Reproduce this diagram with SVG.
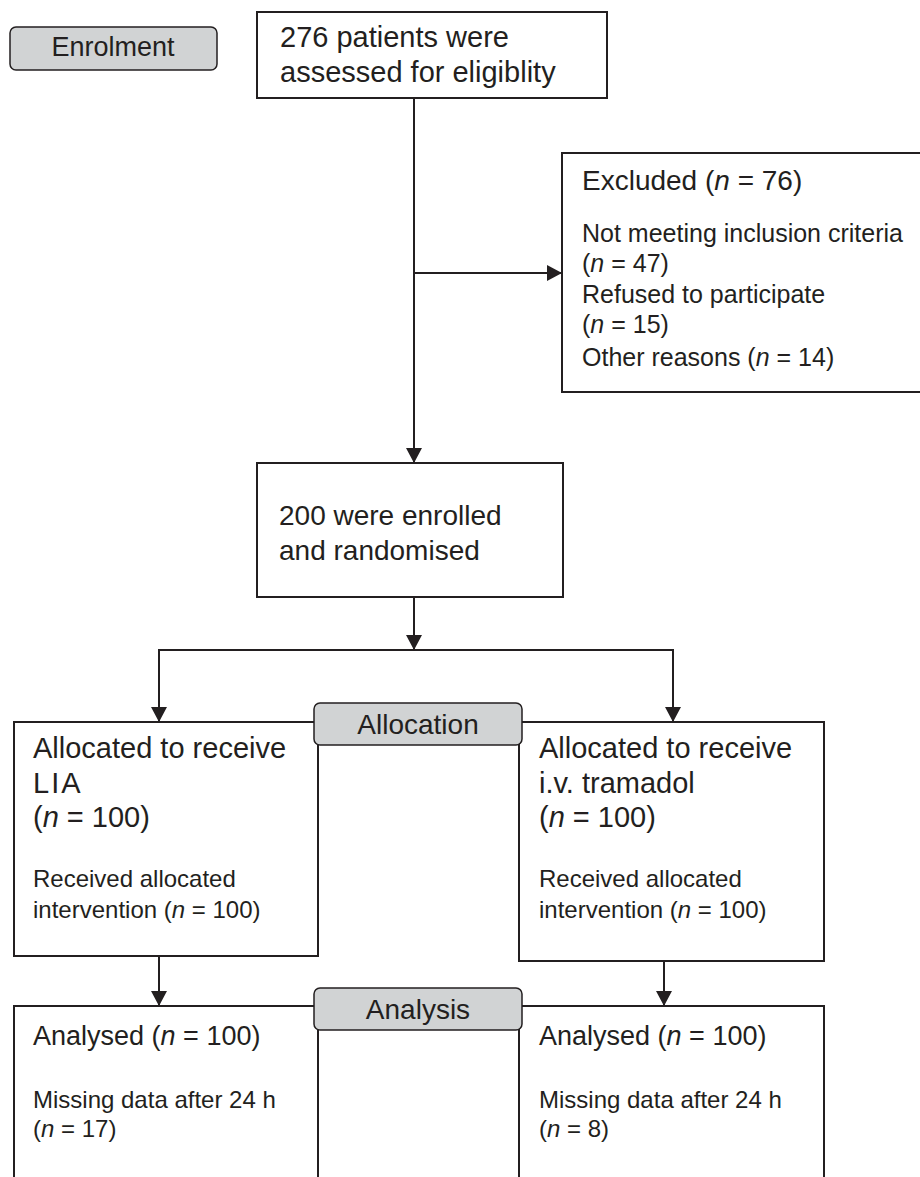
<svg xmlns="http://www.w3.org/2000/svg" width="920" height="1177" viewBox="0 0 920 1177">
  <style>
    text { font-family: "Liberation Sans", Arial, sans-serif; fill: #231f20; }
    .box { fill: #ffffff; stroke: #231f20; stroke-width: 2; }
    .stage { fill: #d1d3d4; stroke: #231f20; stroke-width: 1.5; }
    .line { fill: none; stroke: #231f20; stroke-width: 2; }
    .t29 { font-size: 29px; }
    .t28 { font-size: 28px; }
    .t27 { font-size: 27px; }
    .t25 { font-size: 25px; }
    .t24 { font-size: 24px; }
    .i { font-style: italic; }
  </style>
  <defs>
    <marker id="arrow" markerWidth="15" markerHeight="16" refX="15" refY="8" orient="auto" markerUnits="userSpaceOnUse">
      <path d="M0,0 L15,8 L0,16 Z" fill="#231f20"/>
    </marker>
  </defs>
  <rect width="920" height="1177" fill="#ffffff"/>

  <g id="connectors">
    <line class="line" x1="414" y1="98" x2="414" y2="463" marker-end="url(#arrow)"/>
    <line class="line" x1="414" y1="273" x2="562" y2="273" marker-end="url(#arrow)"/>
    <line class="line" x1="414" y1="597" x2="414" y2="650" marker-end="url(#arrow)"/>
    <line class="line" x1="159" y1="650" x2="673" y2="650"/>
    <line class="line" x1="159" y1="649" x2="159" y2="722" marker-end="url(#arrow)"/>
    <line class="line" x1="673" y1="649" x2="673" y2="722" marker-end="url(#arrow)"/>
    <line class="line" x1="159" y1="956" x2="159" y2="1006" marker-end="url(#arrow)"/>
    <line class="line" x1="664" y1="961" x2="664" y2="1006" marker-end="url(#arrow)"/>
  </g>

  <g id="enrolment">
    <rect class="stage" x="10" y="27" width="207" height="43" rx="6"/>
    <text class="t27" x="113" y="56" text-anchor="middle">Enrolment</text>
  </g>

  <g id="assessed">
    <rect class="box" x="257" y="12" width="350" height="86"/>
    <text class="t29" x="280" y="47">276 patients were</text>
    <text class="t29" x="280" y="82">assessed for eligiblity</text>
  </g>

  <g id="excluded">
    <rect class="box" x="562" y="153" width="380" height="239"/>
    <text class="t28" x="582" y="190">Excluded (<tspan class="i">n</tspan> = 76)</text>
    <text class="t25" x="582" y="242">Not meeting inclusion criteria</text>
    <text class="t25" x="582" y="272">(<tspan class="i">n</tspan> = 47)</text>
    <text class="t25" x="582" y="303">Refused to participate</text>
    <text class="t25" x="582" y="333">(<tspan class="i">n</tspan> = 15)</text>
    <text class="t25" x="582" y="366">Other reasons (<tspan class="i">n</tspan> = 14)</text>
  </g>

  <g id="randomised">
    <rect class="box" x="257" y="463" width="306" height="134"/>
    <text class="t28" x="279" y="525">200 were enrolled</text>
    <text class="t28" x="279" y="560">and randomised</text>
  </g>

  <g id="alloc-lia">
    <rect class="box" x="14" y="722" width="304" height="234"/>
    <text class="t29" x="33" y="758">Allocated to receive</text>
    <text class="t29" x="33" y="793" letter-spacing="2">LIA</text>
    <text class="t29" x="33" y="827">(<tspan class="i">n</tspan> = 100)</text>
    <text class="t24" x="33" y="887">Received allocated</text>
    <text class="t24" x="33" y="918">intervention (<tspan class="i">n</tspan> = 100)</text>
  </g>

  <g id="alloc-tramadol">
    <rect class="box" x="519" y="722" width="305" height="239"/>
    <text class="t29" x="539" y="758">Allocated to receive</text>
    <text class="t29" x="539" y="793">i.v. tramadol</text>
    <text class="t29" x="539" y="827">(<tspan class="i">n</tspan> = 100)</text>
    <text class="t24" x="539" y="887">Received allocated</text>
    <text class="t24" x="539" y="918">intervention (<tspan class="i">n</tspan> = 100)</text>
  </g>

  <g id="allocation">
    <rect class="stage" x="314" y="703" width="208" height="42" rx="6"/>
    <text class="t28" x="418" y="734" text-anchor="middle">Allocation</text>
  </g>

  <g id="analysed-lia">
    <rect class="box" x="14" y="1006" width="304" height="190"/>
    <text class="t27" x="33" y="1045">Analysed (<tspan class="i">n</tspan> = 100)</text>
    <text class="t24" x="33" y="1108">Missing data after 24 h</text>
    <text class="t24" x="33" y="1137">(<tspan class="i">n</tspan> = 17)</text>
  </g>

  <g id="analysed-tramadol">
    <rect class="box" x="519" y="1006" width="305" height="190"/>
    <text class="t27" x="539" y="1045">Analysed (<tspan class="i">n</tspan> = 100)</text>
    <text class="t24" x="539" y="1108">Missing data after 24 h</text>
    <text class="t24" x="539" y="1137">(<tspan class="i">n</tspan> = 8)</text>
  </g>

  <g id="analysis">
    <rect class="stage" x="314" y="988" width="208" height="42" rx="6"/>
    <text class="t28" x="418" y="1019" text-anchor="middle">Analysis</text>
  </g>
</svg>
